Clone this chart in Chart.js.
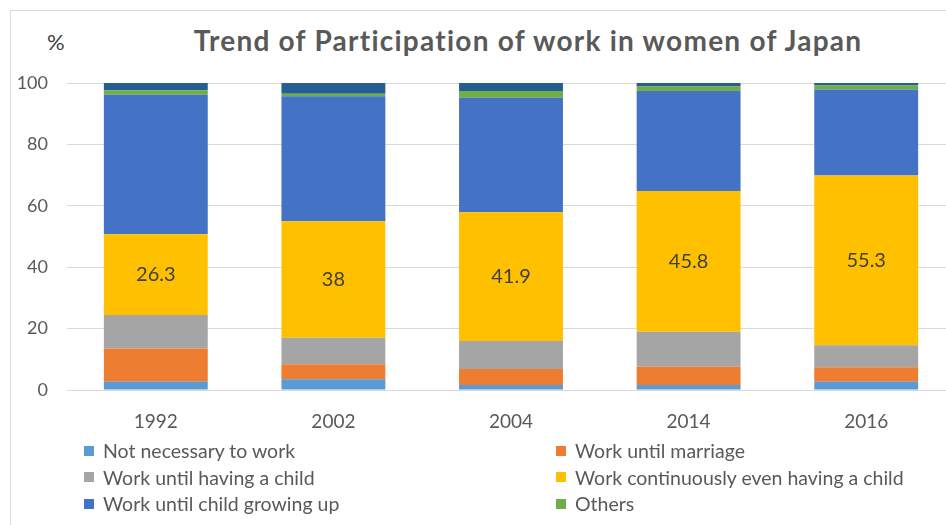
<!DOCTYPE html>
<html>
<head>
<meta charset="utf-8">
<script src="https://cdn.jsdelivr.net/npm/chart.js@4.4.1/dist/chart.umd.min.js"></script>
<style>
  html, body { margin: 0; padding: 0; background: #fff; overflow: hidden; }
  body { width: 946px; height: 525px; position: relative; font-family: Lato, "Open Sans", sans-serif; }
  #frame { position: absolute; left: 10px; top: 10px; width: 1000px; height: 600px; border: 1px solid #d9d9d9; }
  #pct { position: absolute; left: 47px; top: 28px; font-size: 22px; color: #404040; }
  #title { position: absolute; left: 0; width: 1056px; top: 23px; text-align: center; font-size: 28px; letter-spacing: 1.25px; font-weight: bold; color: #595959; }
  #wrap { position: absolute; left: 0; top: 0; width: 960px; height: 470px; }
  #legend { position: absolute; left: 84px; top: 439px; width: 900px; display: grid; grid-template-columns: 472px 400px; row-gap: 3px; }
  .item { display: flex; align-items: center; height: 23.5px; font-size: 19.5px; color: #595959; white-space: nowrap; }
  .box { width: 10px; height: 10px; margin-right: 9px; flex: none; }
</style>
</head>
<body>
<div id="frame"></div>
<div id="pct">%</div>
<div id="title">Trend of Participation of work in women of Japan</div>
<div id="wrap"><canvas id="chart"></canvas></div>
<div id="legend"></div>
<script>
// Годы опроса
const years = ['1992', '2002', '2004', '2014', '2016'];

// Доли ответов, %
const notNecessary = [2.7, 3.5, 1.6, 1.6, 2.7];
const untilMarriage = [10.8, 4.9, 5.2, 6.0, 4.7];
const untilChild = [10.9, 8.6, 9.2, 11.4, 7.2];
const continuously = [26.3, 38, 41.9, 45.8, 55.3];
const untilGrowingUp = [45.5, 40.7, 37.3, 32.6, 28.0];
const others = [1.4, 0.8, 2.2, 1.5, 1.3];
const noAnswer = [2.4, 3.5, 2.6, 1.1, 0.8];

const yTicks = [0, 20, 40, 60, 80, 100];

const datasets = [
  { label: 'Not necessary to work', data: notNecessary, backgroundColor: '#5B9BD5' },
  { label: 'Work until marriage', data: untilMarriage, backgroundColor: '#ED7D31' },
  { label: 'Work until having a child', data: untilChild, backgroundColor: '#A5A5A5' },
  { label: 'Work continuously even having a child', data: continuously, backgroundColor: '#FFC000', showValues: true },
  { label: 'Work until child growing up', data: untilGrowingUp, backgroundColor: '#4472C4' },
  { label: 'Others', data: others, backgroundColor: '#70AD47' },
  { label: 'No answer', data: noAnswer, backgroundColor: '#255E91', hideInLegend: true }
];

// Подписи значений внутри жёлтых сегментов
const valueLabels = {
  id: 'valueLabels',
  afterDatasetsDraw(chart) {
    const ctx = chart.ctx;
    chart.data.datasets.forEach((ds, i) => {
      if (!ds.showValues) return;
      chart.getDatasetMeta(i).data.forEach((bar, j) => {
        const y = (bar.y + bar.base) / 2;
        ctx.save();
        ctx.font = '20px Lato, "Open Sans", sans-serif';
        ctx.fillStyle = '#404040';
        ctx.textAlign = 'center';
        ctx.textBaseline = 'middle';
        ctx.fillText(String(ds.data[j]), bar.x, y);
        ctx.restore();
      });
    });
  }
};

const chart = new Chart(document.getElementById('chart'), {
  type: 'bar',
  data: { labels: years, datasets: datasets },
  options: {
    responsive: true,
    maintainAspectRatio: false,
    animation: false,
    datasets: { bar: { categoryPercentage: 0.585, barPercentage: 1, borderWidth: 0 } },
    layout: { padding: { top: 83, right: 5, bottom: 36, left: 0 } },
    plugins: {
      legend: { display: false },
      tooltip: { enabled: false },
      title: { display: false }
    },
    scales: {
      x: {
        stacked: true,
        afterFit: (scale) => { scale.height = 44; },
        grid: { display: false },
        border: { display: false },
        ticks: { color: '#595959', font: { size: 19, family: 'Lato' }, padding: 12, maxRotation: 0 }
      },
      y: {
        stacked: true,
        min: 0,
        max: 100,
        afterFit: (scale) => { scale.width = 67; },
        afterBuildTicks: (scale) => { scale.ticks = yTicks.map(v => ({ value: v })); },
        grid: { color: '#d9d9d9', drawTicks: false },
        border: { display: false },
        ticks: { color: '#595959', font: { size: 18, family: 'Lato' }, padding: 19 }
      }
    }
  },
  plugins: [valueLabels]
});

// Легенда в две колонки, как в оригинале
const legendBox = document.getElementById('legend');
chart.data.datasets.forEach(ds => {
  if (ds.hideInLegend) return;
  const item = document.createElement('div');
  item.className = 'item';
  item.innerHTML = '<span class="box" style="background:' + ds.backgroundColor + '"></span>' + ds.label;
  legendBox.appendChild(item);
});
</script>
</body>
</html>
